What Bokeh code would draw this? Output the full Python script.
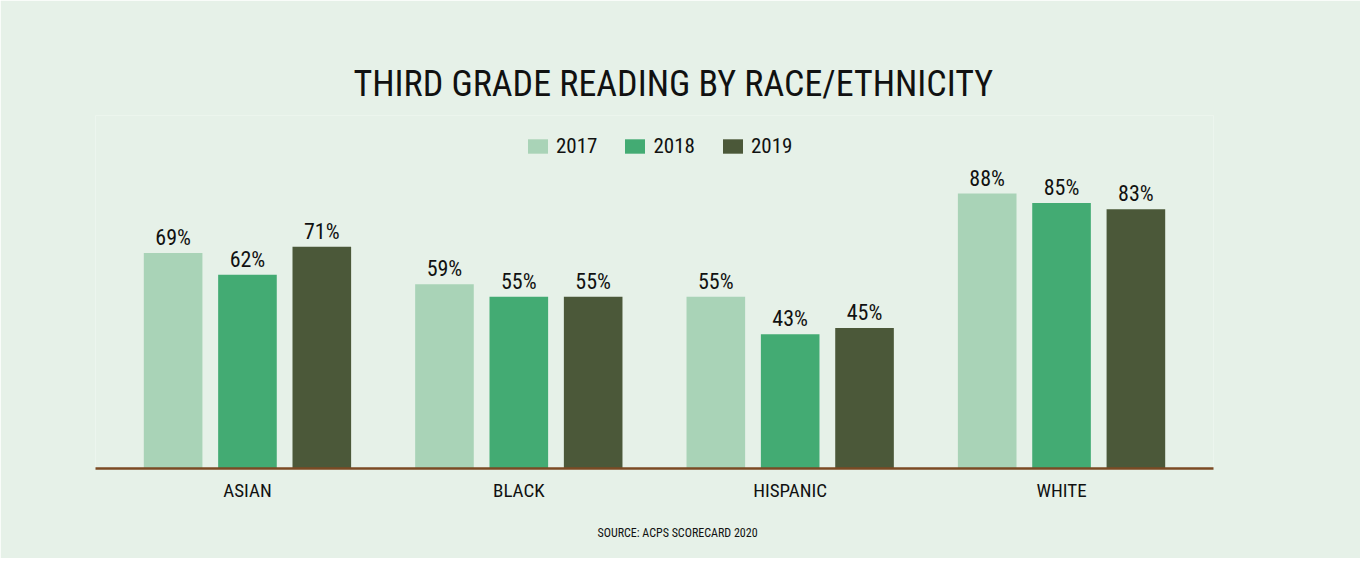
from bokeh.plotting import figure
from bokeh.models import ColumnDataSource, Legend, LegendItem, FactorRange, Title
from bokeh.transform import dodge
from bokeh.core.properties import value
from bokeh.embed import file_html
from bokeh.resources import INLINE

categories = ["ASIAN", "BLACK", "HISPANIC", "WHITE"]
years = ["2017", "2018", "2019"]
v2017 = [69, 59, 55, 88]
v2018 = [62, 55, 43, 85]
v2019 = [71, 55, 45, 83]
colors = ["#a9d3b7", "#43ab73", "#4b5839"]

FONT = "'Roboto Condensed', 'Liberation Sans Narrow', 'DejaVu Sans Condensed', 'Open Sans', sans-serif"
BG = "#e6f1e8"

src = ColumnDataSource(dict(
    cat=categories,
    y2017=v2017, y2018=v2018, y2019=v2019,
    l2017=[f"{v}%" for v in v2017],
    l2018=[f"{v}%" for v in v2018],
    l2019=[f"{v}%" for v in v2019],
))

p = figure(x_range=FactorRange(*categories, range_padding=0.03), y_range=(0, 113),
           width=1360, height=558, output_backend="svg", toolbar_location=None,
           min_border_left=95, min_border_right=147, min_border_bottom=88, min_border_top=115)
p.background_fill_color = BG
p.border_fill_color = BG
p.outline_line_color = None
p.grid.visible = False
p.yaxis.visible = False

p.title.text = "THIRD GRADE READING BY RACE/ETHNICITY"
p.title.align = "left"
p.title.text_font = FONT
p.title.text_font_size = "36px"
p.title.text_font_style = "normal"
p.title.text_color = "#111111"
p.title.offset = 258
p.title.standoff = 21

offsets = [-0.274, 0.0, 0.274]
renderers = []
for yr, off, col in zip(years, offsets, colors):
    r = p.vbar(x=dodge("cat", off, range=p.x_range), top="y" + yr, width=0.216,
               source=src, fill_color=col, line_color=None)
    renderers.append(r)
    p.text(x=dodge("cat", off, range=p.x_range), y="y" + yr, text="l" + yr, source=src,
           text_align="center", text_baseline="bottom", y_offset=-3,
           text_font=value(FONT), text_font_size="22px", text_color="#111111")

legend = Legend(items=[LegendItem(label=yr, renderers=[r]) for yr, r in zip(years, renderers)],
                orientation="horizontal", location=(430, 310),
                background_fill_alpha=0, border_line_color=None,
                glyph_width=25, glyph_height=18, label_text_font=FONT,
                label_text_font_size="21px", label_standoff=6, spacing=25,
                label_text_color="#111111")
p.add_layout(legend, "center")

ax = p.xaxis[0]
ax.axis_line_color = "#7b4a24"
ax.axis_line_width = 2.5
ax.major_tick_line_color = None
ax.minor_tick_line_color = None
ax.major_label_text_font = FONT
ax.major_label_text_font_size = "19px"
ax.major_label_text_color = "#111111"
ax.major_label_standoff = 4

src_title = Title(text="SOURCE: ACPS SCORECARD 2020", align="left", text_font=FONT,
                  text_font_size="12px", text_font_style="normal", text_color="#111111",
                  offset=502, standoff=38)
p.add_layout(src_title, "below")

open("out.html", "w").write(file_html(p, INLINE))
